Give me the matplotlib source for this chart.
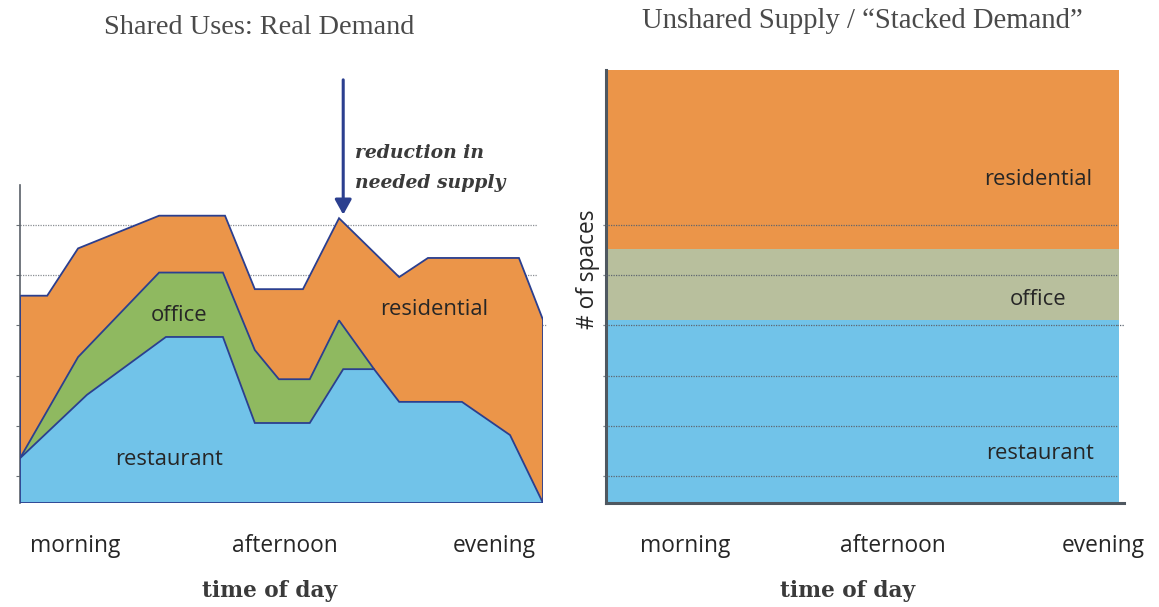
import matplotlib
matplotlib.use("Agg")
import matplotlib.pyplot as plt

# ---------------- data ----------------
# left chart: cumulative top lines of each use over the day (x: 0..100 = day span)
restaurant_x = [0, 12.8, 27.9, 38.8, 44.9, 55.4, 61.8, 67.7, 72.5, 84.5, 93.7, 100]
restaurant_y = [0.89, 2.15, 3.30, 3.30, 1.59, 1.59, 2.66, 2.66, 2.01, 2.01, 1.35, 0.0]

office_x = [0, 11.1, 26.6, 38.8, 44.9, 49.5, 55.4, 61.0, 67.7]
office_y = [0.89, 2.90, 4.58, 4.58, 3.04, 2.46, 2.46, 3.63, 2.66]

residential_x = [0, 5.2, 11.1, 26.6, 39.2, 44.9, 54.1, 61.0, 72.5, 78.0, 95.4, 100]
residential_y = [4.12, 4.12, 5.06, 5.71, 5.71, 4.25, 4.25, 5.66, 4.49, 4.87, 4.87, 3.64]

# right chart: stacked (unshared) supply
stack_labels = ["restaurant", "office", "residential"]
stack_values = [3.64, 1.41, 3.56]

time_labels = ["morning", "afternoon", "evening"]
left_tick_pos = [10.5, 50.7, 90.6]
right_tick_pos = [0.153, 0.554, 0.959]
grid_levels = [0.53, 1.53, 2.53, 3.53, 4.53, 5.53]

peak_x = 61.0
peak_y = 5.73

# ---------------- style ----------------
C_RES = "#EB9549"
C_OFF = "#8FB960"
C_OFF_R = "#B8BF9D"
C_RST = "#71C3E9"
NAVY = "#2B3F8F"
AXC = "#4F5860"
TXT = "#262626"
SANS = ["Open Sans", "DejaVu Sans"]
SERIF = ["Liberation Serif", "DejaVu Serif"]
SLAB = ["DejaVu Serif"]
LBL = 15.8
TICK = 16.4

W, H = 1159, 607
fig = plt.figure(figsize=(W / 100, H / 100), dpi=100)

def rect(l, r, t, b):
    return [l / W, 1 - b / H, (r - l) / W, (b - t) / H]

# ---------- left chart ----------
ax = fig.add_axes(rect(20, 543, 185, 503))
ax.set_xlim(0, 100)
ax.set_ylim(0, 6.32)
for s in ["top", "right", "bottom"]:
    ax.spines[s].set_visible(False)
ax.spines["left"].set_color("#5A6068")
ax.spines["left"].set_linewidth(1.2)
ax.hlines(grid_levels, 0, 98.8, colors="#8A8F94", linestyles=(0, (1, 1)), lw=0.9, zorder=0)
ax.hlines([grid_levels[3]], 98.8, 100.5, colors="#8A8F94", linestyles=(0, (1, 1)), lw=0.9, zorder=0,
          clip_on=False)

def layer(xs, ys, color, z):
    px = list(xs) + [xs[-1], xs[0]]
    py = list(ys) + [0, 0]
    ax.fill(px, py, facecolor=color, edgecolor="none", zorder=z)
    ax.plot(list(xs) + [xs[-1]], list(ys) + [0], color=NAVY, lw=1.3, zorder=z + 0.5,
            solid_joinstyle="miter")

layer(residential_x, residential_y, C_RES, 1)
layer(office_x, office_y, C_OFF, 2)
layer(restaurant_x, restaurant_y, C_RST, 3)
ax.plot([0, 0, 100], [residential_y[0], 0, 0], color=NAVY, lw=1.3, zorder=4)

ax.set_yticks(grid_levels)
ax.set_yticklabels([])
ax.tick_params(axis="y", length=3, width=0.8, color="#6A7076", direction="out")
ax.set_xticks(left_tick_pos)
ax.set_xticklabels(time_labels, family=SANS, fontsize=TICK, color=TXT)
ax.tick_params(axis="x", length=0, pad=22)

ax.text(30.5, 3.73, "office", family=SANS, fontsize=LBL, color=TXT, ha="center", va="center", zorder=6)
ax.text(28.5, 0.87, "restaurant", family=SANS, fontsize=LBL, color=TXT, ha="center", va="center", zorder=6)
ax.text(79.2, 3.84, "residential", family=SANS, fontsize=LBL, color=TXT, ha="center", va="center", zorder=6)

ax.annotate("", xy=(peak_x + 0.8, peak_y), xytext=(peak_x + 0.8, 8.41),
            arrowprops=dict(arrowstyle="-|>,head_length=0.9,head_width=0.5", color=NAVY, lw=2.2,
                            shrinkA=0, shrinkB=0),
            annotation_clip=False, zorder=7)
ax.text(64.1, 6.66, "reduction in\nneeded supply", family=SLAB, fontsize=13.5, fontweight="bold",
        fontstyle="italic", color="#3A3A3A", ha="left", va="center", linespacing=1.85)

# ---------- right chart ----------
ax2 = fig.add_axes(rect(606, 1124, 70, 503))
ax2.set_xlim(0, 1)
ax2.set_ylim(0, sum(stack_values))
for s in ["top", "right"]:
    ax2.spines[s].set_visible(False)
for s in ["left", "bottom"]:
    ax2.spines[s].set_color(AXC)
    ax2.spines[s].set_linewidth(2.2)
bottom = 0
for lab, v, c in zip(stack_labels, stack_values, [C_RST, C_OFF_R, C_RES]):
    ax2.bar(0.4975, v, bottom=bottom, width=0.9865, color=c, zorder=1)
    bottom += v
ax2.hlines(grid_levels, -0.006, 0.9865, colors="#5E6670", linestyles=(0, (1, 1)), lw=0.9, zorder=3,
           clip_on=False)
ax2.hlines([grid_levels[3]], 0.9865, 1.0, colors="#5E6670", linestyles=(0, (1, 1)), lw=0.9, zorder=3,
           clip_on=False)
ax2.set_yticks([])
ax2.set_xticks(right_tick_pos)
ax2.set_xticklabels(time_labels, family=SANS, fontsize=TICK, color=TXT)
ax2.tick_params(axis="x", length=0, pad=22)
ax2.set_ylabel("# of spaces", family=SANS, fontsize=TICK, color=TXT)
ax2.yaxis.set_label_coords(-0.012, 0.54)

ax2.text(0.834, 6.43, "residential", family=SANS, fontsize=LBL, color=TXT, ha="center", va="center", zorder=6)
ax2.text(0.834, 4.04, "office", family=SANS, fontsize=LBL, color=TXT, ha="center", va="center", zorder=6)
ax2.text(0.838, 0.98, "restaurant", family=SANS, fontsize=LBL, color=TXT, ha="center", va="center", zorder=6)

# ---------- titles ----------
fig.text(259 / W, 1 - 28 / H, "Shared Uses: Real Demand", family=SERIF, fontsize=20.3,
         color="#4A4A4A", ha="center", va="center")
fig.text(862 / W, 1 - 21 / H, "Unshared Supply / \u201cStacked Demand\u201d", family=SERIF, fontsize=20.6,
         color="#4A4A4A", ha="center", va="center")
fig.text(270 / W, 1 - 591 / H, "time of day", family=SLAB, fontsize=15.6, fontweight="bold",
         color="#3A3A3A", ha="center", va="center")
fig.text(848 / W, 1 - 591 / H, "time of day", family=SLAB, fontsize=15.6, fontweight="bold",
         color="#3A3A3A", ha="center", va="center")

fig.savefig("out.png", dpi=100)
